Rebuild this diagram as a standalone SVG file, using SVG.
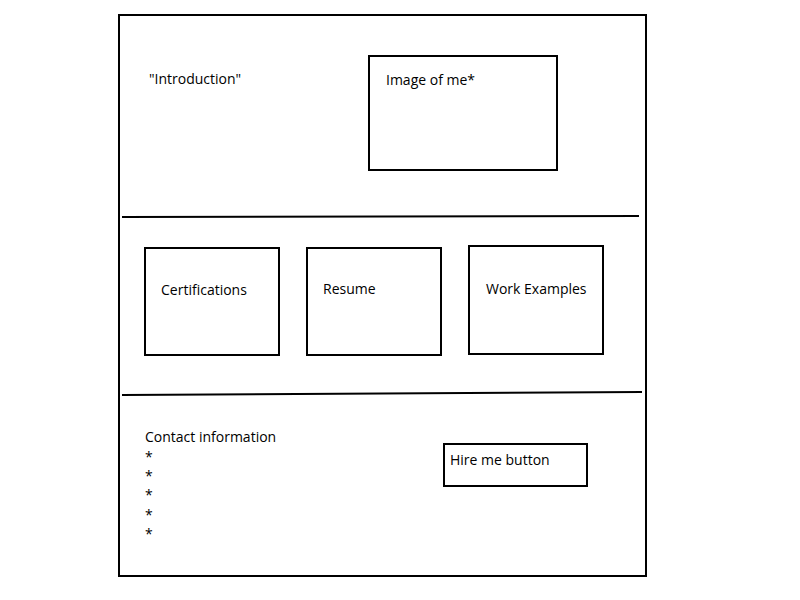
<svg xmlns="http://www.w3.org/2000/svg" width="800" height="600" viewBox="0 0 800 600">
<style>
.box{fill:none;stroke:#000;stroke-width:2}
.ln{stroke:#000;stroke-width:2;fill:none}
text{font-family:"Open Sans","Liberation Sans",sans-serif;font-size:14px;fill:#000}
</style>
<rect width="800" height="600" fill="#fff"/>
<g id="page"><rect class="box" x="119" y="15" width="527" height="561"/></g>
<g id="connectors">
<line class="ln" x1="122" y1="217" x2="639" y2="216"/>
<line class="ln" x1="122" y1="395" x2="642" y2="392"/>
</g>
<g id="intro"><text x="149" y="84">"Introduction"</text></g>
<g id="image"><rect class="box" x="369" y="56" width="188" height="114"/><text x="386" y="85">Image of me*</text></g>
<g id="certifications"><rect class="box" x="145" y="248" width="134" height="107"/><text x="161" y="295">Certifications</text></g>
<g id="resume"><rect class="box" x="307" y="248" width="134" height="107"/><text x="323" y="294">Resume</text></g>
<g id="work"><rect class="box" x="469" y="246" width="134" height="108"/><text x="486" y="294">Work Examples</text></g>
<g id="contact"><text x="145" y="442">Contact information</text>
<text x="145" y="462">*</text><text x="145" y="481">*</text><text x="145" y="500">*</text><text x="145" y="520">*</text><text x="145" y="539">*</text></g>
<g id="hire"><rect class="box" x="444" y="444" width="143" height="42"/><text x="450" y="465">Hire me button</text></g>
</svg>
